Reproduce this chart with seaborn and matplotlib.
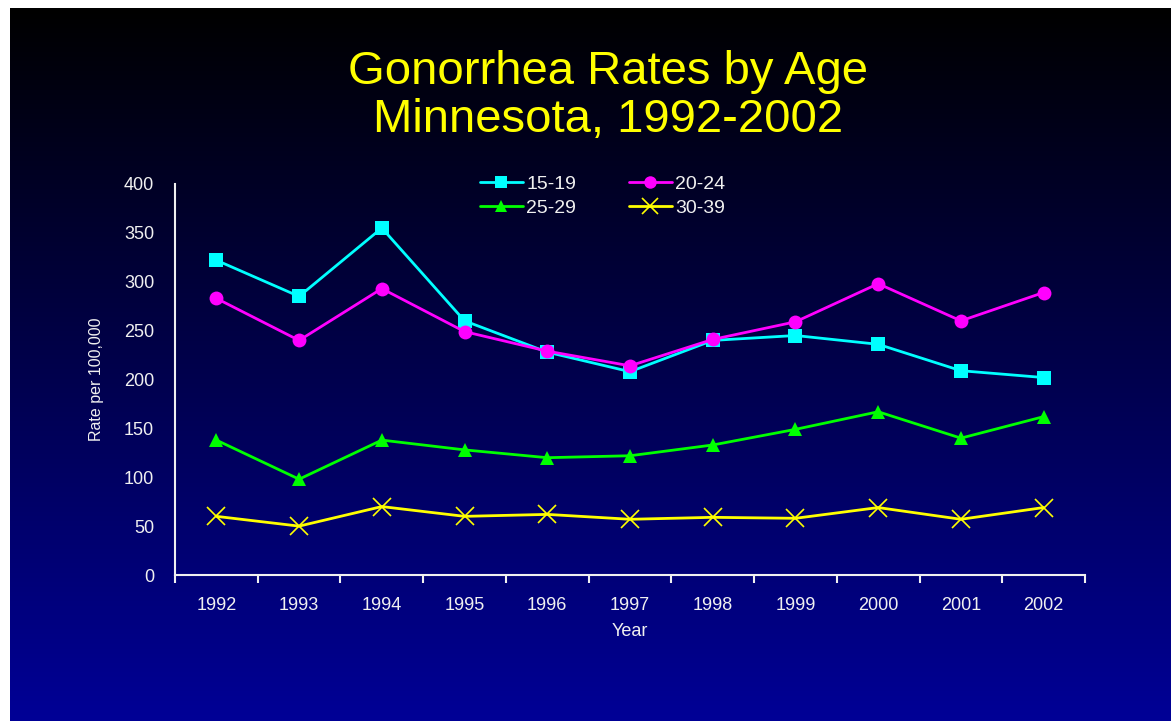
import numpy as np
import pandas as pd
import seaborn as sns
import matplotlib.pyplot as plt
from matplotlib import font_manager

# Datos
years = ['1992', '1993', '1994', '1995', '1996', '1997', '1998', '1999', '2000', '2001', '2002']
rate_15_19 = [322, 285, 355, 260, 228, 208, 240, 245, 236, 209, 202]
rate_20_24 = [283, 240, 293, 249, 229, 214, 241, 259, 298, 260, 289]
rate_25_29 = [138, 98, 138, 128, 120, 122, 133, 149, 167, 140, 162]
rate_30_39 = [60, 50, 70, 60, 62, 57, 59, 58, 69, 57, 69]
age_groups = ['15-19', '20-24', '25-29', '30-39']

df = pd.DataFrame({'Year': years * 4,
                   'Rate': rate_15_19 + rate_20_24 + rate_25_29 + rate_30_39,
                   'Age': np.repeat(age_groups, len(years))})

sns.set_style('white')
names = {f.name for f in font_manager.fontManager.ttflist}
fam = 'Liberation Sans Narrow' if 'Liberation Sans Narrow' in names else 'Liberation Sans'
plt.rcParams['font.family'] = [fam, 'DejaVu Sans']

colores = {'15-19': '#00FFFF', '20-24': '#FF00FF', '25-29': '#00FF00', '30-39': '#FFFF00'}
marcadores = {'15-19': 's', '20-24': 'o', '25-29': '^', '30-39': 'x'}
tamanos = {'15-19': 9.5, '20-24': 10, '25-29': 10, '30-39': 13}

fig = plt.figure(figsize=(11.71, 7.21), dpi=100, facecolor='white')

# fondo degradado negro -> azul
bg = fig.add_axes([10 / 1171, 0, 1 - 10 / 1171, 1 - 8 / 721])
grad = np.linspace(0, 1, 256).reshape(-1, 1)
rgb = np.zeros((256, 1, 3))
rgb[:, 0, 2] = grad[:, 0] * 150 / 255
bg.imshow(rgb, aspect='auto', extent=[0, 1, 0, 1], origin='upper')
bg.axis('off')

ax = fig.add_axes([175 / 1171, 1 - 575 / 721, 910 / 1171, 391 / 721])
ax.patch.set_alpha(0)

for g in age_groups:
    sub = df[df['Age'] == g]
    m = marcadores[g]
    sns.lineplot(data=sub, x='Year', y='Rate', ax=ax, color=colores[g], linewidth=2,
                 marker=m, markersize=tamanos[g], markerfacecolor=colores[g],
                 markeredgecolor=colores[g], markeredgewidth=1.2 if m == 'x' else 0, label=g)

ax.set_xlim(-0.5, 10.5)
ax.set_ylim(0, 400)
ax.set_yticks(range(0, 401, 50))
ax.set_xticks(range(len(years)))
ax.set_xticklabels(years)
ax.set_xticks(np.arange(-0.5, 11, 1), minor=True)
ax.tick_params(axis='x', which='major', length=0, pad=16, colors='#F0F0F0', labelsize=13)
ax.tick_params(axis='x', which='minor', length=6, width=1.5, color='#F0F0F0', direction='out')
ax.tick_params(axis='y', length=7, width=1.5, color='#F0F0F0', labelcolor='#F0F0F0',
               labelsize=13, direction='out', pad=8)
ax.tick_params(axis='x', which='both', bottom=True)

for s in ['top', 'right']:
    ax.spines[s].set_visible(False)
for s in ['left', 'bottom']:
    ax.spines[s].set_color('#F0F0F0')
    ax.spines[s].set_linewidth(1.5)

ax.set_xlabel('Year', color='#F0F0F0', fontsize=13, labelpad=6)
ax.set_ylabel('Rate per 100,000', color='#F0F0F0', fontsize=11.5, labelpad=14)

# leyenda por filas: 15-19, 20-24 / 25-29, 30-39
h, l = ax.get_legend_handles_labels()
orden = [0, 2, 1, 3]
ax.legend([h[i] for i in orden], [l[i] for i in orden], loc='upper center',
          bbox_to_anchor=(0.47, 1.068), ncol=2, frameon=False, fontsize=14,
          labelcolor='#F0F0F0', handlelength=2.2, columnspacing=2.7,
          handletextpad=0.2, labelspacing=0.35, markerscale=0.9)

fig.text(0.519, 0.900, 'Gonorrhea Rates by Age', color='#FFFF00', fontsize=34, ha='center', va='center')
fig.text(0.519, 0.833, 'Minnesota, 1992-2002', color='#FFFF00', fontsize=34, ha='center', va='center')

fig.savefig('out.png', dpi=100, facecolor=fig.get_facecolor())
